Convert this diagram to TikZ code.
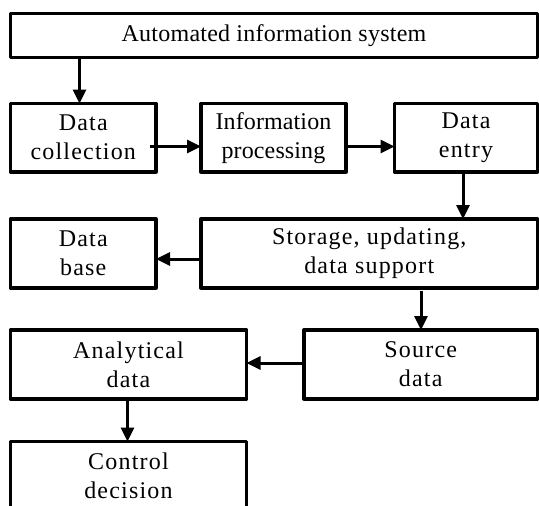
\documentclass[tikz,border=0pt]{standalone}
\usepackage{fontspec}
\setmainfont{Liberation Serif}[LetterSpace=5]
\newfontfamily\topfont{Liberation Serif}[LetterSpace=1]
\newfontfamily\tightfont{Liberation Serif}[LetterSpace=0.5]
\usetikzlibrary{arrows.meta,calc}
\begin{document}
\begin{tikzpicture}[x=1pt,y=-1pt,
  box/.style={draw,line width=3.3pt,line join=round,inner sep=0pt,outer sep=0pt,align=center,
    font=\fontsize{24}{29}\selectfont},
  arr/.style={line width=3pt,-{Triangle[length=14pt,width=13pt]}}]
\clip (0,0) rectangle (539,506);
\fill[white] (0,0) rectangle (539,506);
\node[box,minimum width=527pt,minimum height=44pt,font=\topfont\fontsize{24}{29}\selectfont] (ais) at (274,35.5) {Automated information system};
\node[box,minimum width=145.5pt,minimum height=68.5pt] (dc) at (83.25,137.75) {Data\\collection};
\node[box,minimum width=145pt,minimum height=68.5pt,font=\tightfont\fontsize{24}{29}\selectfont] (ip) at (273.5,137.75) {Information\\processing};
\node[box,minimum width=143pt,minimum height=68.5pt] (de) at (466,137.75) {Data\\entry};
\node[box,minimum width=145.5pt,minimum height=69pt] (db) at (83.25,253.5) {Data\\base};
\node[box,minimum width=336.5pt,minimum height=69pt] (st) at (369.25,253.5) {Storage, updating,\\data support};
\node[box,minimum width=236pt,minimum height=69pt] (an) at (128.5,364.5) {Analytical\\data};
\node[box,minimum width=233.5pt,minimum height=69pt] (sd) at (420.75,364.5) {Source\\data};
\node[box,minimum width=236pt,minimum height=69pt] (cd) at (128.5,476) {Control\\decision};
\coordinate (x1) at (79.5,0);
\coordinate (y1) at (0,146.5);
\coordinate (x2) at (463,0);
\coordinate (y2) at (0,259);
\coordinate (x3) at (421,0);
\coordinate (y3) at (0,363);
\coordinate (x4) at (127.5,0);
\draw[arr] (ais.south -| x1) -- (dc.north -| x1);
\draw[arr] ([xshift=-6pt]dc.east |- y1) -- (ip.west |- y1);
\draw[arr] (ip.east |- y1) -- (de.west |- y1);
\draw[arr] (de.south -| x2) -- (st.north -| x2);
\draw[arr] (st.west |- y2) -- (db.east |- y2);
\draw[arr] ([yshift=-3pt]st.south -| x3) -- (sd.north -| x3);
\draw[arr] (sd.west |- y3) -- (an.east |- y3);
\draw[arr] (an.south -| x4) -- (cd.north -| x4);
\end{tikzpicture}
\end{document}
